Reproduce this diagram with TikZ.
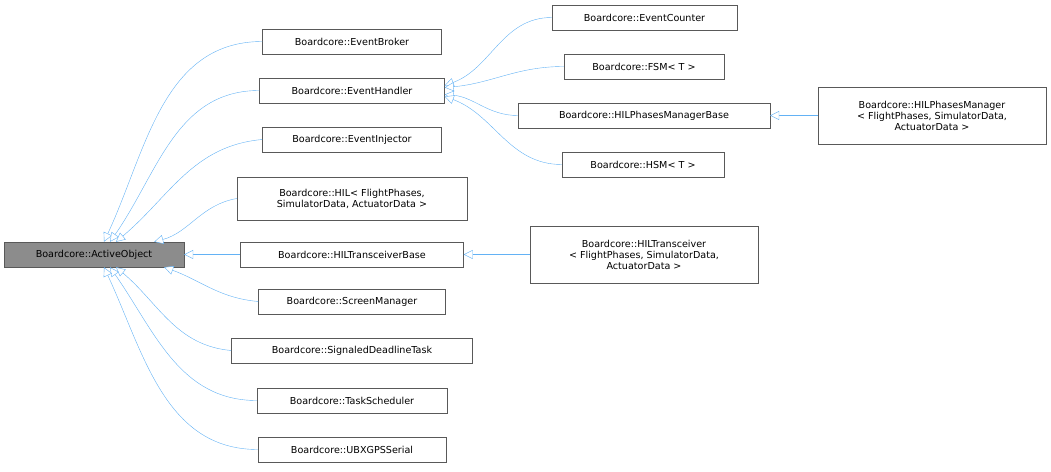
\documentclass[tikz,border=0pt]{standalone}
\usepackage{fontspec}
\setmainfont{DejaVu Sans}
\usetikzlibrary{arrows.meta,calc}
\definecolor{edgeblue}{HTML}{63B2F5}
\tikzset{
cls/.style = {draw=black!65, fill=white, rectangle, minimum height=25pt, inner xsep=5pt, font=\fontsize{9.6}{11}\selectfont, align=center},
base/.style = {cls, fill=black!45},
inh/.style = {draw=edgeblue, {Triangle[open,length=9pt,width=9pt,fill=white]}-}
}
\begin{document}
\begin{tikzpicture}[x=1pt,y=-1pt]
    \useasboundingbox (0,0) rectangle (1051,471);
    \node [base, minimum width=180pt] (ao) at (94,254.5) {Boardcore::ActiveObject};
    % first level
    \node [cls, minimum width=179pt] (broker) at (352,41.5) {Boardcore::EventBroker};
    \node [cls, minimum width=185pt] (handler) at (352,90.5) {Boardcore::EventHandler};
    \node [cls, minimum width=179pt] (injector) at (352,139.5) {Boardcore::EventInjector};
    \node [cls, minimum width=230pt, minimum height=43pt] (hil) at (352,198.5) {Boardcore::HIL< FlightPhases,\\ SimulatorData, ActuatorData >};
    \node [cls, minimum width=223pt] (tbase) at (352,254.5) {Boardcore::HILTransceiverBase};
    \node [cls, minimum width=187pt] (screen) at (352,301.5) {Boardcore::ScreenManager};
    \node [cls, minimum width=241pt] (deadline) at (352,350.5) {Boardcore::SignaledDeadlineTask};
    \node [cls, minimum width=190pt] (sched) at (352,400.5) {Boardcore::TaskScheduler};
    \node [cls, minimum width=188pt] (ubx) at (352,449.5) {Boardcore::UBXGPSSerial};
    % second level
    \node [cls, minimum width=185pt] (counter) at (644.5,17.5) {Boardcore::EventCounter};
    \node [cls, minimum width=160pt] (fsm) at (644,66.5) {Boardcore::FSM< T >};
    \node [cls, minimum width=252pt] (pbase) at (644,115.5) {Boardcore::HILPhasesManagerBase};
    \node [cls, minimum width=162pt] (hsm) at (643,164.5) {Boardcore::HSM< T >};
    \node [cls, minimum width=228pt, minimum height=57pt] (trans) at (644,254.5) {Boardcore::HILTransceiver\\ < FlightPhases, SimulatorData,\\ ActuatorData >};
    \node [cls, minimum width=228pt, minimum height=57pt] (pman) at (932,115.5) {Boardcore::HILPhasesManager\\ < FlightPhases, SimulatorData,\\ ActuatorData >};
    % inheritance from ActiveObject
    \draw [inh] ($(ao.north)+(10,0)$) to[out=65,in=180] (broker.west);
    \draw [inh] ($(ao.north)+(16,0)$) to[out=55,in=180] (handler.west);
    \draw [inh] ($(ao.north)+(22,0)$) to[out=40,in=185] (injector.west);
    \draw [inh] ($(ao.north east)+(-30,0)$) to[out=15,in=190] (hil.west);
    \draw [inh] (ao.east) -- (tbase.west);
    \draw [inh] ($(ao.south east)+(-20,0)$) to[out=-20,in=175] (screen.west);
    \draw [inh] ($(ao.south)+(22,0)$) to[out=-40,in=175] (deadline.west);
    \draw [inh] ($(ao.south)+(16,0)$) to[out=-55,in=180] (sched.west);
    \draw [inh] ($(ao.south)+(10,0)$) to[out=-65,in=180] (ubx.west);
    % inheritance from EventHandler
    \draw [inh] ($(handler.east)+(0,-5)$) to[out=20,in=180] (counter.west);
    \draw [inh] ($(handler.east)+(0,-3)$) to[out=5,in=180] (fsm.west);
    \draw [inh] ($(handler.east)+(0,4)$) to[out=-5,in=180] (pbase.west);
    \draw [inh] ($(handler.east)+(0,6)$) to[out=-20,in=180] (hsm.west);
    % further levels
    \draw [inh] (pbase.east) -- (pman.west);
    \draw [inh] (tbase.east) -- (trans.west);
\end{tikzpicture}
\end{document}
